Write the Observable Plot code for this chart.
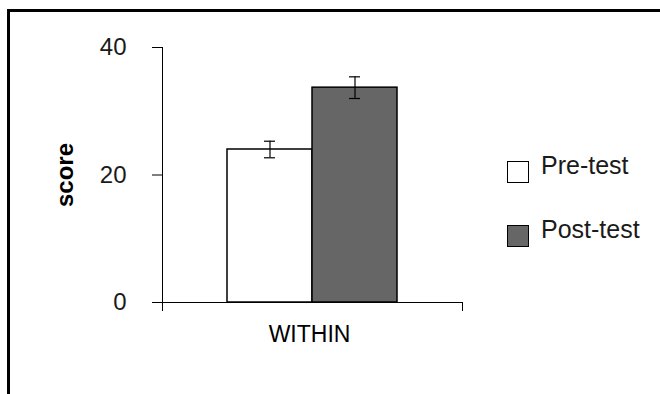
<!DOCTYPE html>
<html>
<head>
<meta charset="utf-8">
<script src="https://cdn.jsdelivr.net/npm/d3@7"></script>
<script src="https://cdn.jsdelivr.net/npm/@observablehq/plot@0.6"></script>
<style>
  html, body { margin: 0; padding: 0; background: #fff; }
  #wrap { position: relative; width: 660px; height: 394px; overflow: hidden; font-family: "Liberation Sans", Helvetica, Arial, sans-serif; }
  #border { position: absolute; left: 7px; top: 9px; width: 700px; height: 500px; border-top: 3px solid #000; border-left: 3px solid #000; }
  #chart { position: absolute; left: 0; top: 0; }
  #chart svg [aria-label="y-axis label"] text { font-size: 24px; font-weight: bold; }
  #chart svg [aria-label="y-axis tick label"] text { fill: #1a1a1a; }
  .leg { position: absolute; left: 0; top: 0; }
  .sw { position: absolute; width: 20px; height: 20px; border: 1.5px solid #000; }
  .lt { position: absolute; font-size: 25px; line-height: 25px; color: #1a1a1a; white-space: nowrap; }
</style>
</head>
<body>
<div id="wrap">
  <div id="border"></div>
  <div id="chart"></div>
  <div id="legend" class="leg"></div>
</div>
<script>
const groups = ["WITHIN"];
const series = ["Pre-test", "Post-test"];
const means = [24.0, 33.7];
const errs = [1.3, 1.7];
const yTicks = [0, 20, 40];
const fills = ["#ffffff", "#666666"];

const data = series.map((s, i) => ({group: groups[0], series: s, value: means[i], err: errs[i]}));

const W = 660, H = 394, mt = 47, mb = 92, ml = 162, mr = 198;

const chart = Plot.plot({
  width: W, height: H,
  marginTop: mt, marginBottom: mb, marginLeft: ml, marginRight: mr,
  style: {fontFamily: "Liberation Sans, Helvetica, Arial, sans-serif", fontSize: "24px", background: "transparent", color: "#000"},
  fx: {domain: groups, padding: 0, label: null},
  x: {domain: series, paddingInner: 0, paddingOuter: 0.754, axis: null},
  y: {domain: [0, 40]},
  color: {domain: series, range: fills},
  marks: [
    Plot.barY(data, {fx: "group", x: "series", y: "value", fill: "series", stroke: "#000", strokeWidth: 1.5}),
    Plot.ruleY([0], {stroke: "#000"}),
    Plot.frame({anchor: "left", insetBottom: -8, stroke: "#000"}),
    Plot.frame({anchor: "right", insetTop: H - mt - mb, insetBottom: -8, stroke: "#000"}),
    Plot.ruleX(data, {fx: "group", x: "series", y1: d => d.value - d.err, y2: d => d.value + d.err, stroke: "#000", strokeWidth: 1.2}),
    Plot.tickY(data, {fx: "group", x: "series", y: d => d.value - d.err, insetLeft: 37, insetRight: 37, stroke: "#000", strokeWidth: 1.2}),
    Plot.tickY(data, {fx: "group", x: "series", y: d => d.value + d.err, insetLeft: 37, insetRight: 37, stroke: "#000", strokeWidth: 1.2}),
    Plot.axisY({ticks: yTicks, tickSize: 10, tickPadding: 26, fontSize: 24, label: "score", labelAnchor: "center", labelArrow: "none", labelOffset: 107}),
    Plot.axisFx({anchor: "bottom", tickSize: 0, tickPadding: 23, fontSize: 23, label: null, dx: -3})
  ]
});
document.getElementById("chart").appendChild(chart);

// legend
const leg = document.getElementById("legend");
const legTop = [161, 225];
series.forEach((s, i) => {
  const sw = document.createElement("div");
  sw.className = "sw";
  sw.style.left = "507px";
  sw.style.top = legTop[i] + "px";
  sw.style.background = fills[i];
  leg.appendChild(sw);
  const t = document.createElement("div");
  t.className = "lt";
  t.style.left = "541px";
  t.style.top = (legTop[i] - 8) + "px";
  t.textContent = s;
  leg.appendChild(t);
});
</script>
</body>
</html>
